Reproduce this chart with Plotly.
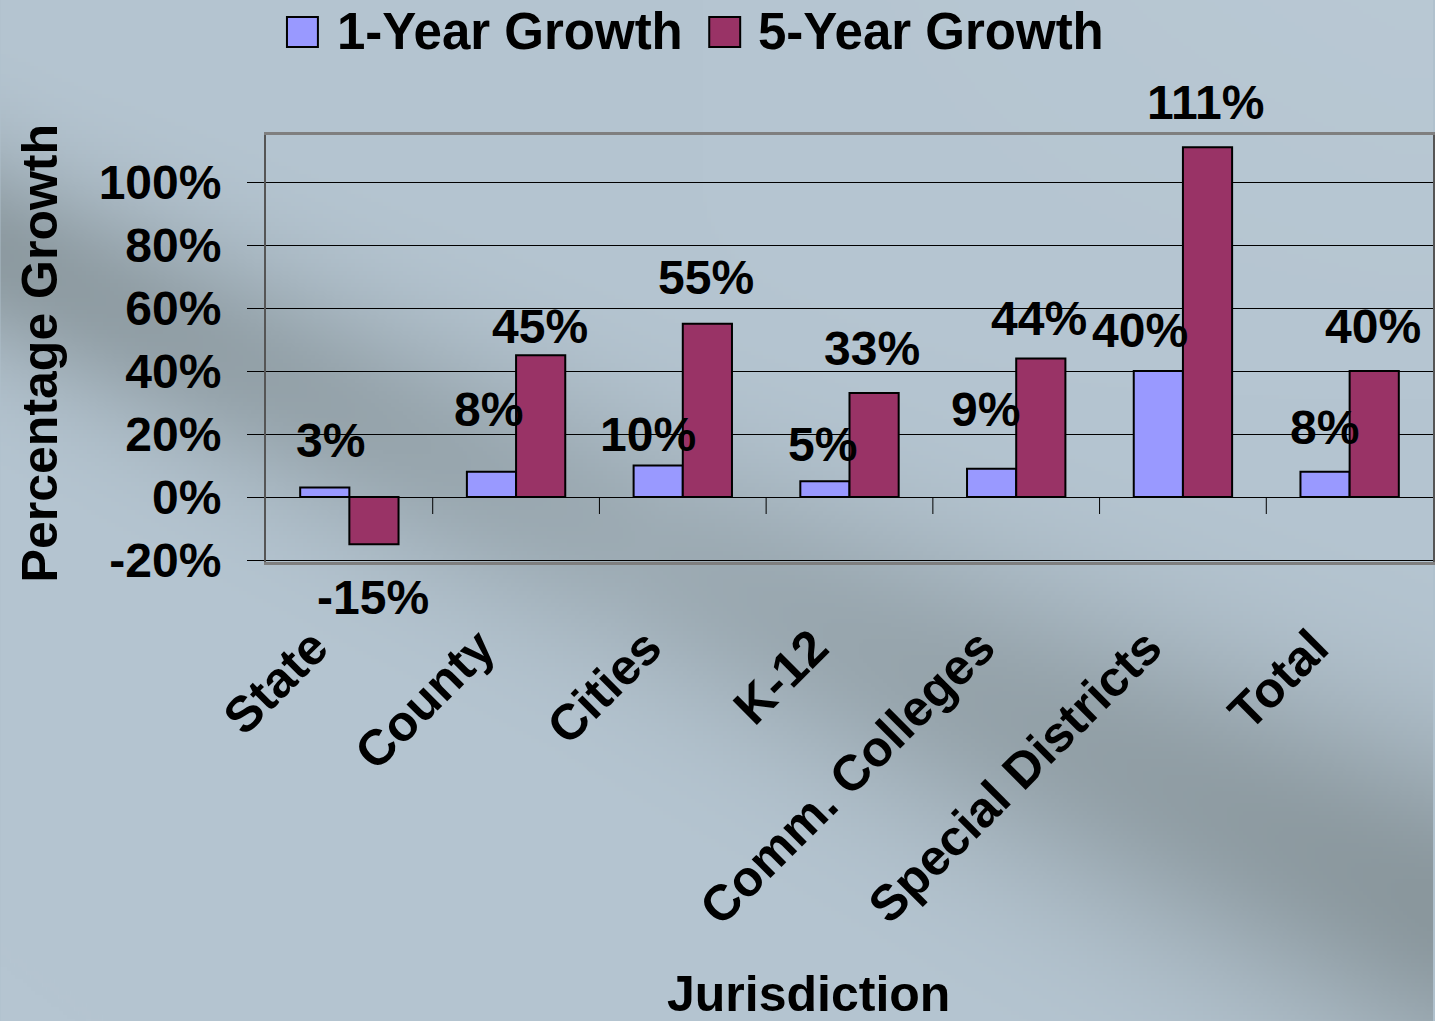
import base64
import struct
import zlib

import numpy as np
import plotly.graph_objects as go

# ---------------- data ----------------
categories = ["State", "County", "Cities", "K-12", "Comm. Colleges", "Special Districts", "Total"]
one_year = [3, 8, 10, 5, 9, 40, 8]
five_year = [-15, 45, 55, 33, 44, 111, 40]
one_year_labels = ["3%", "8%", "10%", "5%", "9%", "40%", "8%"]
five_year_labels = ["-15%", "45%", "55%", "33%", "44%", "111%", "40%"]
series_names = ["1-Year Growth", "5-Year Growth"]
y_tickvals = [-20, 0, 20, 40, 60, 80, 100]
y_ticktext = ["-20%", "0%", "20%", "40%", "60%", "80%", "100%"]

# ---------------- style / layout constants ----------------
W, H = 1435, 1021
ML, MR, MT, MB = 266, 0, 135, 459
PW, PH = W - ML - MR, H - MT - MB
C1, C5 = "#9999ff", "#993366"
FONT = "Liberation Sans, Arial, Helvetica, sans-serif"
BARGAP = 0.41
HALF = (1 - BARGAP) / 4  # offset of each bar's centre from the category centre
# label offsets (pixels) of data labels relative to the bar end
one_dx = [6, -3, -10, -2, -6, -18, -1]
one_dy = [47, 62, 31, 37, 59, 41, 44]
five_dx = [-1, -1, -1, -2, -2, -2, -1]
five_dy = [-53, 29, 46, 45, 40, 45, 45]


def px_x(p):
    return (p - ML) / PW


def px_y(p):
    return (H - MB - p) / PH


# ---------------- background gradient image ----------------
def png_uri(arr):
    h, w, _ = arr.shape
    raw = b"".join(b"\x00" + arr[r].tobytes() for r in range(h))

    def chunk(tag, data):
        c = struct.pack(">I", len(data)) + tag + data
        return c + struct.pack(">I", zlib.crc32(tag + data) & 0xFFFFFFFF)

    png = b"\x89PNG\r\n\x1a\n"
    png += chunk(b"IHDR", struct.pack(">IIBBBBB", w, h, 8, 2, 0, 0, 0))
    png += chunk(b"IDAT", zlib.compress(raw, 9))
    png += chunk(b"IEND", b"")
    return "data:image/png;base64," + base64.b64encode(png).decode()


S = 4
gw, gh = W // S, H // S
X, Y = np.meshgrid(np.linspace(0, W, gw), np.linspace(0, H, gh))
light = np.array([181, 197, 209], float)
dark = np.array([138, 151, 157], float)
# diagonal dark band from left (~y 250) to the lower right (~y 900)
x0, y0, x1, y1 = 0.0, 255.0, 1435.0, 905.0
dx, dy = x1 - x0, y1 - y0
n = np.hypot(dx, dy)
d = ((X - x0) * dy - (Y - y0) * dx) / n
t = np.clip(((X - x0) * dx + (Y - y0) * dy) / n / n, 0, 1)
amp = 0.55 + 0.45 * (np.abs(t - 0.45) / 0.55)
sig = 95 + 60 * t
w_dark = np.clip(amp * np.exp(-(d / sig) ** 2), 0, 1)
# slight lighter blue in the upper right
w_light = 0.25 * np.clip((X - 700) / 700, 0, 1) * np.clip((400 - Y) / 400, 0, 1)
img = light[None, None, :] * (1 - w_dark[..., None]) + dark[None, None, :] * w_dark[..., None]
img = img + (np.array([196, 210, 220]) - img) * w_light[..., None]
img = np.clip(img, 0, 255).astype(np.uint8)
bg_uri = png_uri(img)

# ---------------- figure ----------------
fig = go.Figure()
fig.add_trace(go.Bar(x=categories, y=one_year, name=series_names[0], marker=dict(color=C1, line=dict(color="black", width=2)), showlegend=False))
fig.add_trace(go.Bar(x=categories, y=five_year, name=series_names[1], marker=dict(color=C5, line=dict(color="black", width=2)), showlegend=False))

annotations = []
for i in range(len(categories)):
    annotations.append(dict(x=i - HALF, y=one_year[i], xref="x", yref="y", text=one_year_labels[i], showarrow=False,
                            xshift=one_dx[i], yshift=one_dy[i], yanchor="middle", xanchor="center",
                            font=dict(family=FONT, size=48, color="black", weight="bold")))
    annotations.append(dict(x=i + HALF, y=five_year[i], xref="x", yref="y", text=five_year_labels[i], showarrow=False,
                            xshift=five_dx[i], yshift=five_dy[i], yanchor="middle", xanchor="center",
                            font=dict(family=FONT, size=48, color="black", weight="bold")))

# axis titles
annotations.append(dict(x=px_x(809), y=px_y(994), xref="paper", yref="paper", text="Jurisdiction", showarrow=False,
                        xanchor="center", yanchor="middle", font=dict(family=FONT, size=50, color="black", weight="bold")))
annotations.append(dict(x=px_x(40), y=px_y(353), xref="paper", yref="paper", text="Percentage Growth", showarrow=False,
                        textangle=-90, xanchor="center", yanchor="middle", font=dict(family=FONT, size=50, color="black", weight="bold")))

# legend (custom, large squares)
shapes = []
legend_items = [(287, 318, 335, series_names[0], C1), (710, 741, 757, series_names[1], C5)]
for sx0, sx1, tx, name, col in legend_items:
    shapes.append(dict(type="rect", xref="paper", yref="paper", x0=px_x(sx0), x1=px_x(sx1), y0=px_y(47), y1=px_y(17),
                       fillcolor=col, line=dict(color="black", width=2), layer="above"))
    annotations.append(dict(x=px_x(tx), y=px_y(32), xref="paper", yref="paper", text=name, showarrow=False,
                            xanchor="left", yanchor="middle", font=dict(family=FONT, size=51, color="black", weight="bold")))

# category tick marks on the zero line
for i in range(len(categories) - 1):
    shapes.append(dict(type="line", xref="x", yref="y", x0=i + 0.5, x1=i + 0.5, ysizemode="pixel", yanchor=0,
                       y0=0, y1=-17, line=dict(color="black", width=1)))

fig.update_layout(
    width=W, height=H,
    margin=dict(l=ML, r=MR, t=MT, b=MB, pad=0),
    paper_bgcolor="#b0c1cd",
    plot_bgcolor="rgba(0,0,0,0)",
    barmode="group", bargap=BARGAP, bargroupgap=0,
    font=dict(family=FONT, color="black", size=48, weight="bold"),
    showlegend=False,
    annotations=annotations,
    shapes=shapes,
    images=[dict(source=bg_uri, xref="paper", yref="paper", x=px_x(0), y=px_y(0), sizex=W / PW, sizey=H / PH,
                 xanchor="left", yanchor="top", sizing="stretch", layer="below")],
)
fig.update_xaxes(
    showline=True, mirror=True, linecolor="#7f7f7f", linewidth=3,
    showgrid=False, ticks="", tickangle=-45, ticklabelstandoff=33, ticklabelshift=-36,
    tickfont=dict(family=FONT, size=50, color="black", weight="bold"),
    range=[-0.5, len(categories) - 0.5],
)
fig.update_yaxes(
    range=[(H - MB - 497) / -3.15, (497 - MT) / 3.15],
    tickvals=y_tickvals, ticktext=y_ticktext,
    ticks="outside", ticklen=17, tickcolor="black", tickwidth=1,
    showgrid=True, gridcolor="black", gridwidth=1,
    zeroline=True, zerolinecolor="black", zerolinewidth=1,
    showline=True, mirror=True, linecolor="#555555", linewidth=2,
    ticklabelstandoff=16,
    tickfont=dict(family=FONT, size=48, color="black", weight="bold"),
)

fig.write_html("out.html", config={"displayModeBar": False},
               post_script="document.body.style.margin='0';document.body.style.overflow='hidden';")
